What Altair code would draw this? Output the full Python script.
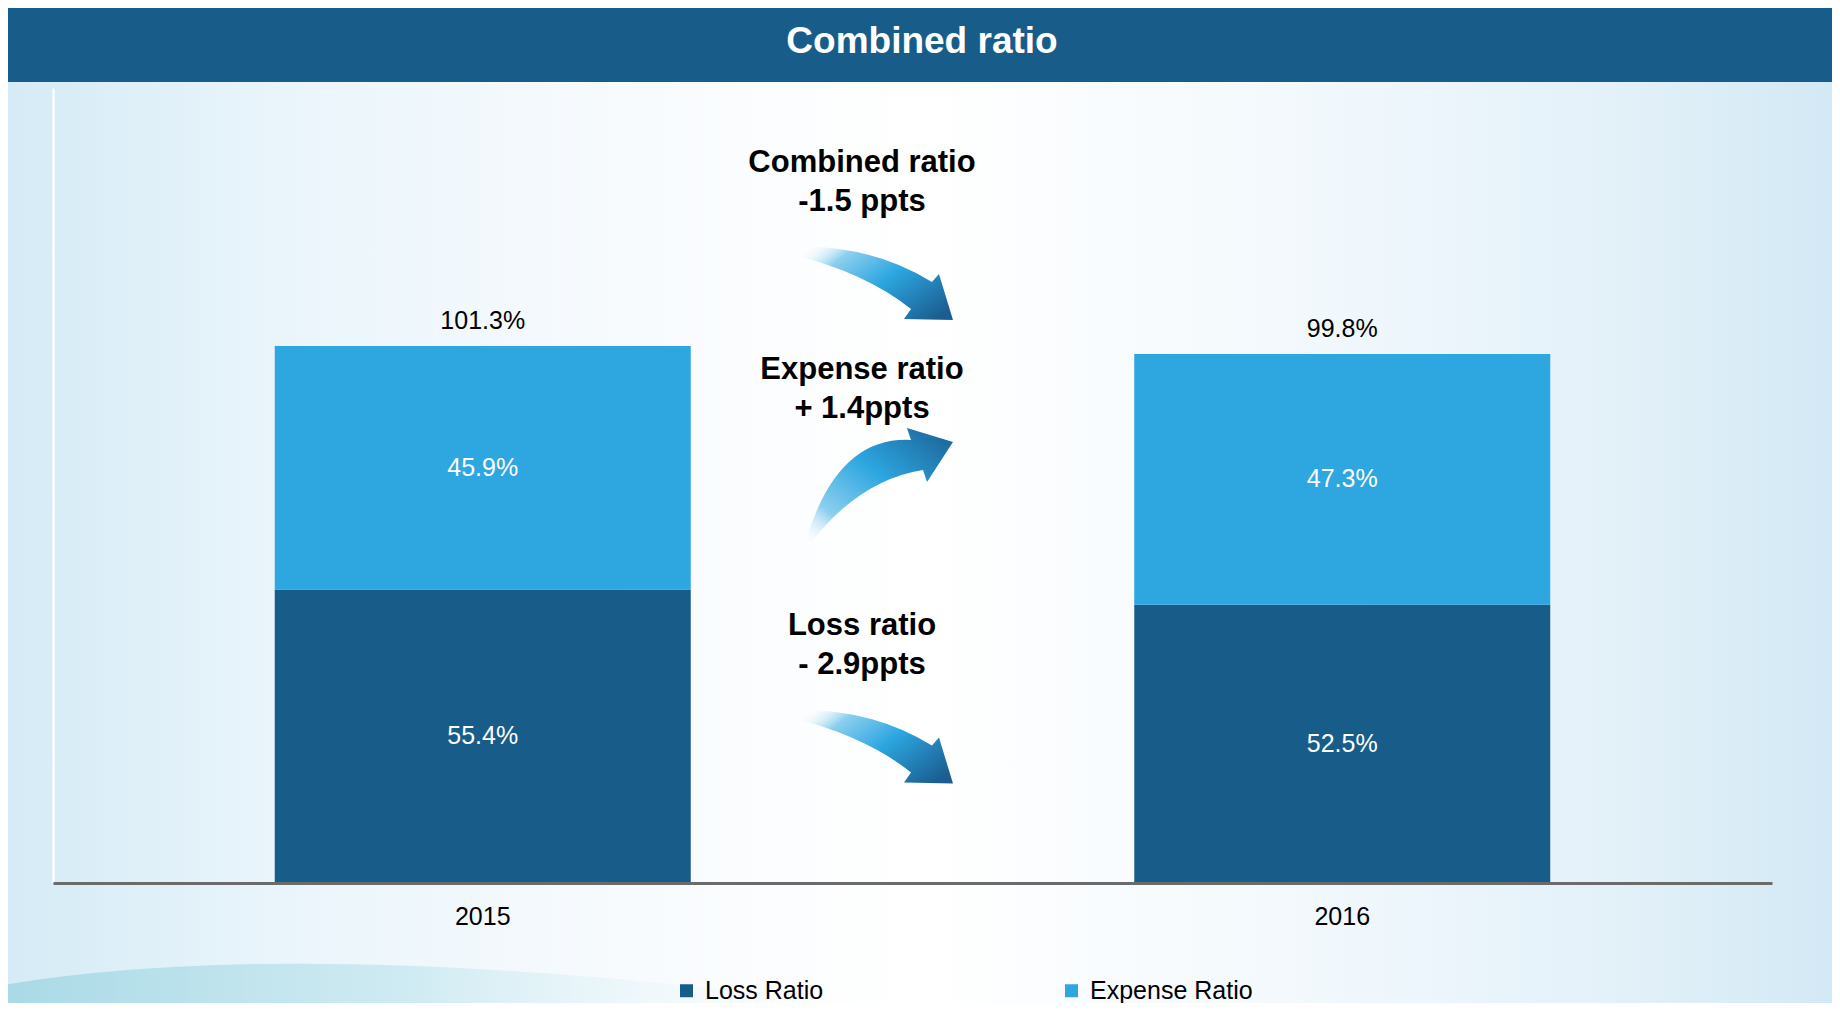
import altair as alt
import pandas as pd

# ---------------- data ----------------
years = ["2015", "2016"]
series_names = ["Loss Ratio", "Expense Ratio"]
loss_ratio = [55.4, 52.5]
expense_ratio = [45.9, 47.3]
combined_ratio = [101.3, 99.8]
chart_title = "Combined ratio"
annotation_texts = ["Combined ratio\n-1.5 ppts", "Expense ratio\n+ 1.4ppts", "Loss ratio\n- 2.9ppts"]

rows = []
for i, yr in enumerate(years):
    rows.append({"year": yr, "series": series_names[0], "value": loss_ratio[i], "order": 0,
                 "label": f"{loss_ratio[i]:.1f}%"})
    rows.append({"year": yr, "series": series_names[1], "value": expense_ratio[i], "order": 1,
                 "label": f"{expense_ratio[i]:.1f}%"})
df = pd.DataFrame(rows)
totals = pd.DataFrame({"year": years, "total": combined_ratio,
                       "label": [f"{v:.1f}%" for v in combined_ratio]})
one = pd.DataFrame({"k": [0]})

# ---------------- style ----------------
W, H = 1719, 795
PL, PT, PR, PB = 45, 80, 60, 120
DARK = "#185c8a"
LIGHT = "#2ea6e0"
FONT = "Liberation Sans"

x_enc = alt.X("year:N", scale=alt.Scale(domain=years, paddingInner=0.516, paddingOuter=0.258),
              axis=alt.Axis(title=None, labelAngle=0, ticks=False, tickSize=0, domainColor="#6b6b6b",
                            domainWidth=3, labelFontSize=25, labelFont=FONT, labelColor="black",
                            labelPadding=41, labelBaseline="alphabetic", zindex=2))
y_scale = alt.Scale(domain=[0, 150], nice=False)
y_axis = alt.Axis(title=None, labels=False, ticks=False, grid=False, domainColor="white",
                  domainWidth=2, zindex=1)

bg_grad = alt.LinearGradient(gradient="linear", x1=0, y1=0, x2=1, y2=0, stops=[
    alt.GradientStop(color="#d5ebf6", offset=0),
    alt.GradientStop(color="#eaf5fb", offset=0.15),
    alt.GradientStop(color="#f8fbfe", offset=0.35),
    alt.GradientStop(color="#ffffff", offset=0.5),
    alt.GradientStop(color="#f3f9fd", offset=0.7),
    alt.GradientStop(color="#e3f1f9", offset=0.88),
    alt.GradientStop(color="#d3e9f5", offset=1),
])
swoosh_grad = alt.LinearGradient(gradient="linear", x1=0, y1=0, x2=1, y2=0, stops=[
    alt.GradientStop(color="rgba(150,210,222,0.7)", offset=0),
    alt.GradientStop(color="rgba(175,222,232,0.5)", offset=0.45),
    alt.GradientStop(color="rgba(255,255,255,0)", offset=1),
])
down_grad = alt.LinearGradient(gradient="linear", x1=0, y1=0.2, x2=1, y2=0.8, stops=[
    alt.GradientStop(color="rgba(255,255,255,0)", offset=0),
    alt.GradientStop(color="#8ccfef", offset=0.22),
    alt.GradientStop(color="#2ca6e0", offset=0.55),
    alt.GradientStop(color="#1b5f92", offset=1),
])
up_grad = alt.LinearGradient(gradient="linear", x1=0, y1=1, x2=1, y2=0, stops=[
    alt.GradientStop(color="rgba(255,255,255,0)", offset=0),
    alt.GradientStop(color="#8ccfef", offset=0.22),
    alt.GradientStop(color="#2ca6e0", offset=0.55),
    alt.GradientStop(color="#1b5f92", offset=1),
])

DOWN_PATH = ("M -1 -0.45 Q -0.006 -0.485 0.745 -0.018 L 0.83 -0.115 L 1 0.442 "
             "L 0.406 0.43 L 0.491 0.309 Q -0.061 -0.133 -0.976 -0.36 Z")
UP_PATH = ("M -0.986 0.716 Q -0.561 -0.689 0.432 -0.635 L 0.378 -0.797 L 1 -0.608 "
           "L 0.649 -0.068 L 0.595 -0.23 Q -0.277 -0.095 -0.959 0.797 Z")
SWOOSH_PATH = "M -1 -0.01 Q -0.3 -0.13 1 0.047 L 1 0.1 L -1 0.1 Z"

# ---------------- layers ----------------
background = alt.Chart(one).mark_rect(color=bg_grad).encode(
    x=alt.value(-PL), x2=alt.value(W + PR), y=alt.value(-PT), y2=alt.value(H + PB))

swoosh = alt.Chart(one).mark_point(shape=SWOOSH_PATH, size=810000, filled=True, color=swoosh_grad,
                                   strokeWidth=0, opacity=1).encode(
    x=alt.value(397), y=alt.value(902))

title_bar = alt.Chart(one).mark_rect(color=DARK).encode(
    x=alt.value(-PL), x2=alt.value(W + PR), y=alt.value(-PT), y2=alt.value(-6))

title_text = alt.Chart(one).mark_text(font=FONT, fontSize=37, fontWeight="bold", color="white",
                                      align="center", baseline="alphabetic").encode(
    x=alt.value(869), y=alt.value(-35), text=alt.value(chart_title))

bars = alt.Chart(df).mark_bar().encode(
    x=x_enc,
    y=alt.Y("value:Q", stack="zero", scale=y_scale, axis=y_axis),
    color=alt.Color("series:N", scale=alt.Scale(domain=series_names, range=[DARK, LIGHT]),
                    legend=alt.Legend(title=None, orient="none", legendX=621, legendY=890,
                                      direction="horizontal", symbolType="square", symbolSize=169,
                                      symbolStrokeWidth=0, symbolOpacity=1, labelFontSize=25,
                                      labelFont=FONT, labelColor="black", labelLimit=400,
                                      columnPadding=235, padding=0, labelOffset=6, zindex=3)),
    order=alt.Order("order:Q"),
)

inner_labels = alt.Chart(df).transform_stack(
    stack="value", groupby=["year"], as_=["v0", "v1"], sort=[alt.SortField("order")]
).transform_calculate(mid="(datum.v0 + datum.v1) / 2").mark_text(
    font=FONT, fontSize=25, color="white", align="center", baseline="middle").encode(
    x=alt.X("year:N"), y=alt.Y("mid:Q"), text="label:N")

total_labels = alt.Chart(totals).mark_text(
    font=FONT, fontSize=25, color="black", align="center", baseline="alphabetic", dy=-17).encode(
    x=alt.X("year:N"), y=alt.Y("total:Q"), text="label:N")

def arrow(path, size, grad, px, py):
    return alt.Chart(one).mark_point(shape=path, size=size, filled=True, color=grad,
                                     strokeWidth=0, opacity=1).encode(
        x=alt.value(px), y=alt.value(py))

arrow_combined = arrow(DOWN_PATH, 27225, down_grad, 817.5, 195.5)
arrow_expense = arrow(UP_PATH, 21904, up_grad, 826, 399)
arrow_loss = arrow(DOWN_PATH, 27225, down_grad, 817.5, 659)

def note(txt, py):
    return alt.Chart(one).mark_text(font=FONT, fontSize=31, fontWeight="bold", color="black",
                                    align="center", baseline="alphabetic", lineBreak="\n",
                                    lineHeight=39).encode(
        x=alt.value(809), y=alt.value(py), text=alt.value(txt))

note_combined = note(annotation_texts[0], 84)
note_expense = note(annotation_texts[1], 291)
note_loss = note(annotation_texts[2], 547)

chart = alt.layer(
    background, swoosh, title_bar, title_text, bars, inner_labels, total_labels,
    arrow_combined, arrow_expense, arrow_loss, note_combined, note_expense, note_loss,
).properties(
    width=W, height=H,
    padding={"left": PL, "top": PT, "right": PR, "bottom": PB},
    autosize=alt.AutoSizeParams(type="none"),
    background="#ffffff",
).configure_view(stroke=None).configure(font=FONT)

chart.save("out.html", embed_options={"renderer": "svg", "actions": False})
